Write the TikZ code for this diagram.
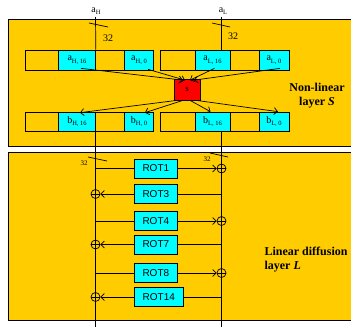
\documentclass[tikz,border=0pt]{standalone}
\usepackage{fontspec}
\setmainfont{Liberation Serif}
\newfontfamily\rotfont{Liberation Sans}
\usepackage{tikz}
\usetikzlibrary{arrows.meta, positioning, calc}
\definecolor{layerbg}{HTML}{FFCC00}
\definecolor{wordbox}{HTML}{00FFFF}
\definecolor{sboxred}{HTML}{FF0000}
\newcommand{\subs}[1]{\raisebox{-0.55ex}{\fontsize{6.5}{7}\selectfont #1}}

\begin{document}
\begin{tikzpicture}[x=1pt, y=-1pt]
    \tikzstyle{layer}=[draw=black, fill=layerbg, line width=0.9pt]
    \tikzstyle{reg}=[draw=black, line width=0.7pt, inner sep=0pt, minimum width=128pt]
    \tikzstyle{half}=[draw=black, fill=wordbox, line width=0.7pt, inner sep=0pt, font=\fontsize{10}{12}\selectfont]
    \tikzstyle{rot}=[draw=black, fill=wordbox, line width=0.7pt, inner sep=0pt, anchor=west,
                     minimum width=43pt, minimum height=19pt, font=\rotfont\fontsize{10}{12}\selectfont]
    \tikzstyle{xor}=[draw=black, circle, line width=0.7pt, inner sep=0pt, minimum size=9pt,
                     path picture={\draw (path picture bounding box.north) -- (path picture bounding box.south)
                                         (path picture bounding box.west) -- (path picture bounding box.east);}]
    \tikzstyle{arr}=[-{Straight Barb[length=3.5pt, width=7pt]}, line width=0.7pt]
    \tikzstyle{wire}=[line width=0.7pt]
    \tikzstyle{title}=[font=\fontsize{12}{14}\selectfont\bfseries]

    \useasboundingbox (0,0) rectangle (351,327);
    \clip (0,0) rectangle (351,327);

    % the two layers
    \draw[layer] (8,19) rectangle (362,146);
    \draw[layer] (8,152) rectangle (362,320);

    % non-linear layer S
    \node[reg, minimum height=20pt] (regaH) at (89,60)    {};
    \node[reg, minimum height=20pt] (regaL) at (224.5,60) {};
    \node[reg, minimum height=19pt] (regbH) at (89,121.5)    {};
    \node[reg, minimum height=19pt] (regbL) at (224.5,121.5) {};

    \node[half, minimum width=37pt, minimum height=20pt] (aH16) at (77,60)    {a\subs{H, 16}};
    \node[half, minimum width=29pt, minimum height=20pt] (aH0)  at (139,60)   {a\subs{H, 0}};
    \node[half, minimum width=35pt, minimum height=20pt] (aL16) at (212.5,60) {a\subs{L, 16}};
    \node[half, minimum width=30pt, minimum height=20pt] (aL0)  at (274,60)   {a\subs{L, 0}};
    \node[half, minimum width=37pt, minimum height=19pt] (bH16) at (77,121.5)    {b\subs{H, 16}};
    \node[half, minimum width=29pt, minimum height=19pt] (bH0)  at (139,121.5)   {b\subs{H, 0}};
    \node[half, minimum width=35pt, minimum height=19pt] (bL16) at (212.5,121.5) {b\subs{L, 16}};
    \node[half, minimum width=30pt, minimum height=19pt] (bL0)  at (274,121.5)   {b\subs{L, 0}};

    \node[draw=black, fill=sboxred, line width=0.7pt, minimum width=26pt, minimum height=21pt,
          inner sep=0pt, font=\fontsize{9}{10}\selectfont] (s) at (187,89.5) {s};

    \node[title, align=center] (nltext) at (317,96) {Non-linear\\layer \textit{S}};

    % inputs
    \node[font=\fontsize{10}{12}\selectfont] (inHtxt) at (96,11)  {a\subs{H}};
    \node[font=\fontsize{10}{12}\selectfont] (inLtxt) at (223,11) {a\subs{L}};
    \coordinate (inH) at (95.5,17);
    \coordinate (inL) at (221.5,17);
    \draw[wire] (inH) -- (aH16.north east);
    \draw[wire] (inL) -- (inL |- aL16.north);
    \draw[wire] (89,23) -- (108,27);
    \draw[wire] (212,23) -- (230,27);
    \node[font=\fontsize{10}{12}\selectfont] (wH) at (108,38) {32};
    \node[font=\fontsize{10}{12}\selectfont] (wL) at (233,36) {32};

    \draw[arr] ($(aH16.south)+(4,-2)$) -- ($(s.north)+(-4,1.5)$);
    \draw[arr] ($(aH0.south)+(9,-1)$)  -- ($(s.north)+(-2,1.5)$);
    \draw[arr] ($(aL16.south)+(2,-2)$) -- ($(s.north)+(3,1.5)$);
    \draw[arr] ($(aL0.south)+(6,-2)$)  -- ($(s.north)+(7,1.5)$);

    \draw[arr] ($(s.south)+(-10,0)$) -- ($(bH16.north)+(3,1)$);
    \draw[arr] ($(s.south)+(-4,0)$)  -- ($(bH0.north)+(6,1)$);
    \draw[arr] ($(s.south)+(3,0)$)   -- ($(bL16.north)+(-2,0)$);
    \draw[arr] ($(s.south)+(9,0)$)   -- ($(bL0.north)+(4,0)$);

    % linear diffusion layer L
    \coordinate (topL) at (95.5,131);
    \coordinate (topR) at (221.5,131);
    \coordinate (botL) at (95.5,327);
    \coordinate (botR) at (221.5,327);
    \draw[wire] (topL) -- (botL);
    \draw[wire] (topR) -- (botR);
    \draw[wire] (88,157) -- (107,161);
    \draw[wire] (210,153) -- (228,157);
    \node[font=\fontsize{7}{8}\selectfont] (wlL) at (84,163) {32};
    \node[font=\fontsize{7}{8}\selectfont] (wlR) at (207,159) {32};

    \node[rot] (rot1)  at (134,168.5) {ROT1};
    \node[rot] (rot3)  at (134,194)   {ROT3};
    \node[rot] (rot4)  at (134,221)   {ROT4};
    \node[rot] (rot7)  at (134,244.5) {ROT7};
    \node[rot] (rot8)  at (134,273)   {ROT8};
    \node[rot, minimum width=49pt] (rot14) at (134,297) {ROT14};

    \node[xor] (x1)  at (rot1.east -| topR)  {};
    \node[xor] (x3)  at (rot3.west -| topL)  {};
    \node[xor] (x4)  at (rot4.east -| topR)  {};
    \node[xor] (x7)  at (rot7.west -| topL)  {};
    \node[xor] (x8)  at (rot8.east -| topR)  {};
    \node[xor] (x14) at (rot14.west -| topL) {};

    \draw[wire] (rot1.west -| topL) -- (rot1.west);
    \draw[arr]  (rot1.east) -- (x1.west);
    \draw[wire] (rot3.east -| topR) -- (rot3.east);
    \draw[arr]  (rot3.west) -- (x3.east);
    \draw[wire] (rot4.west -| topL) -- (rot4.west);
    \draw[arr]  (rot4.east) -- (x4.west);
    \draw[wire] (rot7.east -| topR) -- (rot7.east);
    \draw[arr]  (rot7.west) -- (x7.east);
    \draw[wire] (rot8.west -| topL) -- (rot8.west);
    \draw[arr]  (rot8.east) -- (x8.west);
    \draw[wire] (rot14.east -| topR) -- (rot14.east);
    \draw[arr]  (rot14.west) -- (x14.east);

    \node[title, align=left, anchor=west] (ldtext) at (261,259.5) {Linear diffusion\\layer \textit{L}};
\end{tikzpicture}
\end{document}
